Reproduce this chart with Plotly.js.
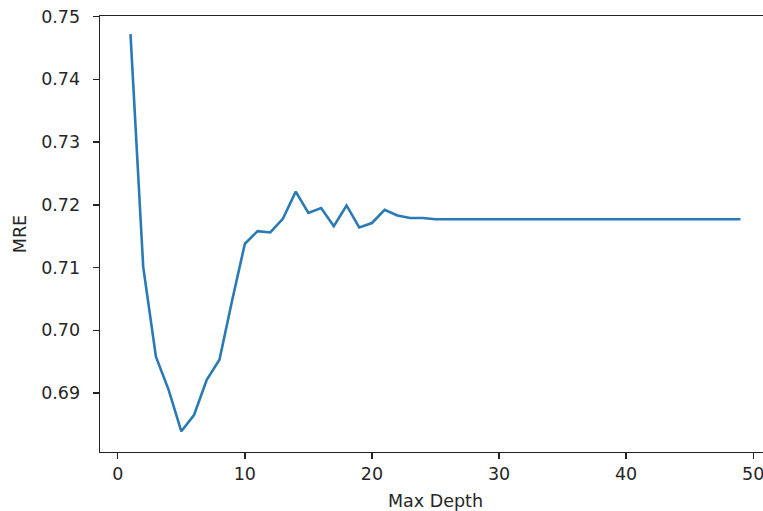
<!DOCTYPE html>
<html>
<head>
<meta charset="utf-8">
<script src="https://cdn.plot.ly/plotly-3.0.1.min.js"></script>
<style>
html, body { margin: 0; padding: 0; overflow: hidden; background: #fff; }
#chart { width: 772px; height: 511px; }
</style>
</head>
<body>
<div id="chart"></div>
<script>
const maxDepth = [1,2,3,4,5,6,7,8,9,10,11,12,13,14,15,16,17,18,19,20,21,22,23,24,25,26,27,28,29,30,31,32,33,34,35,36,37,38,39,40,41,42,43,44,45,46,47,48,49];
const mre = [0.7472,0.7101,0.6958,0.6905,0.6839,0.6865,0.6921,0.6953,0.7048,0.7138,
             0.7158,0.7156,0.7178,0.7221,0.7187,0.7195,0.7166,0.7199,0.7164,0.7171,
             0.7192,0.7183,0.7179,0.7179,0.7177,0.7177,0.7177,0.7177,0.7177,0.7177,
             0.7177,0.7177,0.7177,0.7177,0.7177,0.7177,0.7177,0.7177,0.7177,0.7177,
             0.7177,0.7177,0.7177,0.7177,0.7177,0.7177,0.7177,0.7177,0.7177];
const yTicks = [0.69,0.70,0.71,0.72,0.73,0.74,0.75];
const xTicks = [0,10,20,30,40,50];

const font = {family: 'DejaVu Sans', size: 17.5, color: '#262626'};

Plotly.newPlot('chart', [{
  x: maxDepth, y: mre, type: 'scatter', mode: 'lines',
  line: {color: '#2a7ab5', width: 2.6}
}], {
  width: 772, height: 511,
  margin: {l: 100, r: 1, t: 16, b: 59},
  paper_bgcolor: '#fff', plot_bgcolor: '#fff',
  font: font,
  showlegend: false,
  xaxis: {
    range: [-1.4, 51.4], tickvals: xTicks, ticktext: xTicks.map(String),
    showgrid: false, zeroline: false, showline: true, mirror: true,
    linecolor: '#222', linewidth: 1.4, ticks: 'outside', ticklen: 6, tickwidth: 1.4, tickcolor: '#222',
    tickfont: font,
    title: {text: 'Max Depth', font: font, standoff: 11}
  },
  yaxis: {
    range: [0.6806, 0.7501], tickvals: yTicks, ticktext: yTicks.map(v => v.toFixed(2)),
    showgrid: false, zeroline: false, showline: true, mirror: true,
    linecolor: '#222', linewidth: 1.4, ticks: 'outside', ticklen: 6, tickwidth: 1.4, tickcolor: '#222',
    tickfont: font, ticklabelstandoff: 9,
    title: {text: 'MRE', font: font, standoff: 10}
  }
}, {displayModeBar: false, staticPlot: true});
</script>
</body>
</html>
